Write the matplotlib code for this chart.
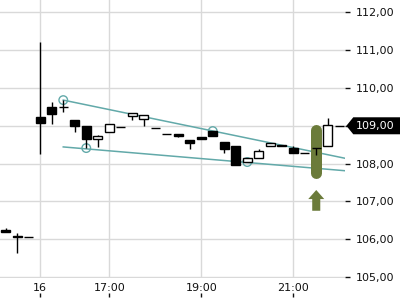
import numpy as np
import matplotlib
matplotlib.use("Agg")
import matplotlib.pyplot as plt
from matplotlib.patches import Rectangle, Polygon, FancyArrow, Circle
import matplotlib.transforms as mtransforms

# ---- data ----
positions = list(range(-3, 27))
opens  = [106.25, 106.08, 106.06, 109.24, 109.50, 109.49, 109.15, 108.99, 108.64, 108.83,
          108.96, 109.25, 109.17, 108.94, 108.77, 108.78, 108.62, 108.69, 108.86, 108.57,
          108.46, 108.04, 108.16, 108.46, 108.49, 108.41, 108.28, 108.42, 108.46, 109.00]
highs  = [106.29, 106.15, 106.06, 111.22, 109.63, 109.68, 109.15, 108.99, 108.75, 109.06,
          108.96, 109.33, 109.28, 108.94, 108.77, 108.78, 108.62, 108.69, 108.86, 108.57,
          108.46, 108.16, 108.38, 108.54, 108.49, 108.46, 108.28, 108.42, 109.20, 109.00]
lows   = [106.18, 105.62, 106.06, 108.24, 109.05, 109.37, 108.84, 108.41, 108.43, 108.83,
          108.96, 109.15, 108.99, 108.94, 108.77, 108.71, 108.38, 108.66, 108.74, 108.28,
          107.97, 108.04, 108.16, 108.46, 108.46, 108.29, 108.28, 108.22, 108.46, 109.00]
closes = [106.18, 106.06, 106.06, 109.08, 109.30, 109.49, 109.00, 108.64, 108.73, 109.06,
          108.96, 109.33, 109.28, 108.94, 108.77, 108.74, 108.55, 108.66, 108.74, 108.38,
          107.97, 108.16, 108.32, 108.54, 108.46, 108.29, 108.28, 108.42, 109.02, 109.00]

x_tick_pos = [0, 6, 14, 22]
x_tick_labels = ["16", "17:00", "19:00", "21:00"]
y_ticks = [105, 106, 107, 108, 109, 110, 111, 112]
y_tick_labels = ["105,00", "106,00", "107,00", "108,00", "", "110,00", "111,00", "112,00"]

upper_trend_x = [2, 26.5]
upper_trend_y = [109.68, 108.14]
lower_trend_x = [2, 26.5]
lower_trend_y = [108.44, 107.81]
touch_x = [2, 4, 15, 18]
touch_y = [109.68, 108.41, 108.86, 108.04]

signal_x = 24
signal_top = 109.045
signal_bottom = 107.61
arrow_bottom = 106.75
arrow_top = 107.30

last_price = 109.00
last_label = "109,00"

# ---- figure ----
fig = plt.figure(figsize=(4, 3), dpi=100)
ax = fig.add_axes([0.0, 22/300, 345/400, 278/300])
ax.set_xlim(-3.5, 26.5)
ax.set_ylim(104.97, 112.33)

grid_c = "#d9d9d9"
for s in ax.spines.values():
    s.set_visible(False)
ax.set_axisbelow(True)
ax.grid(True, color=grid_c, linewidth=1.0)

ax.set_xticks(x_tick_pos)
ax.set_xticklabels(x_tick_labels, fontsize=8)
ax.tick_params(axis='x', length=0, pad=3.8, colors="#111111")
ax.yaxis.tick_right()
ax.set_yticks(y_ticks)
ax.set_yticklabels(y_tick_labels, fontsize=8)
ax.tick_params(axis='y', length=3.6, width=1.0, pad=4.3, colors="#111111")

# x tick marks below labels
sec = ax.secondary_xaxis(-0.054)
sec.set_xticks(x_tick_pos)
sec.set_xticklabels([""] * len(x_tick_pos))
sec.tick_params(length=3, width=1.0, color="#111111")
sec.spines['bottom'].set_visible(False)

teal = "#62a9a9"
ax.plot(upper_trend_x, upper_trend_y, color=teal, lw=1.1, zorder=2)
ax.plot(lower_trend_x, lower_trend_y, color=teal, lw=1.1, zorder=2)
ax.scatter(touch_x, touch_y, s=38, facecolors="none", edgecolors=teal, linewidths=1.0, zorder=2)

# signal pill
olive = "#6b7b3a"
r_px = 5.5
ppu = 278 / (112.33 - 104.97)
ax.plot([signal_x, signal_x], [signal_top - r_px / ppu, signal_bottom + r_px / ppu],
        color=olive, lw=11 * 0.72, solid_capstyle='round', zorder=3)
ax.add_patch(FancyArrow(signal_x, arrow_bottom, 0, arrow_top - arrow_bottom, width=0.70,
                        head_width=1.39, head_length=0.24, length_includes_head=True,
                        color=olive, lw=0, zorder=3))

# candles
bw = 0.74
for x, o, h, l, c in zip(positions, opens, highs, lows, closes):
    top = max(o, c)
    bot = min(o, c)
    if h > top:
        ax.plot([x, x], [top, h], color="black", lw=1.0, zorder=4, solid_capstyle='butt')
    if l < bot:
        ax.plot([x, x], [l, bot], color="black", lw=1.0, zorder=4, solid_capstyle='butt')
    fc = "white" if c > o else "black"
    ax.add_patch(Rectangle((x - bw / 2, bot), bw, top - bot, facecolor=fc,
                           edgecolor="black", lw=1.0, zorder=5))

# last price tag
trans = mtransforms.blended_transform_factory(ax.transAxes, ax.transData)
hh = 8.5 / ppu
tag = Polygon([(1.004, last_price), (1.024, last_price + hh), (1.2, last_price + hh),
               (1.2, last_price - hh), (1.024, last_price - hh)], closed=True,
              transform=trans, facecolor="black", edgecolor="none", clip_on=False, zorder=6)
ax.add_patch(tag)
ax.text(1.03, last_price, last_label, transform=trans, color="white", fontsize=8,
        va="center", ha="left", clip_on=False, zorder=7)

fig.savefig("out.png", dpi=100)
